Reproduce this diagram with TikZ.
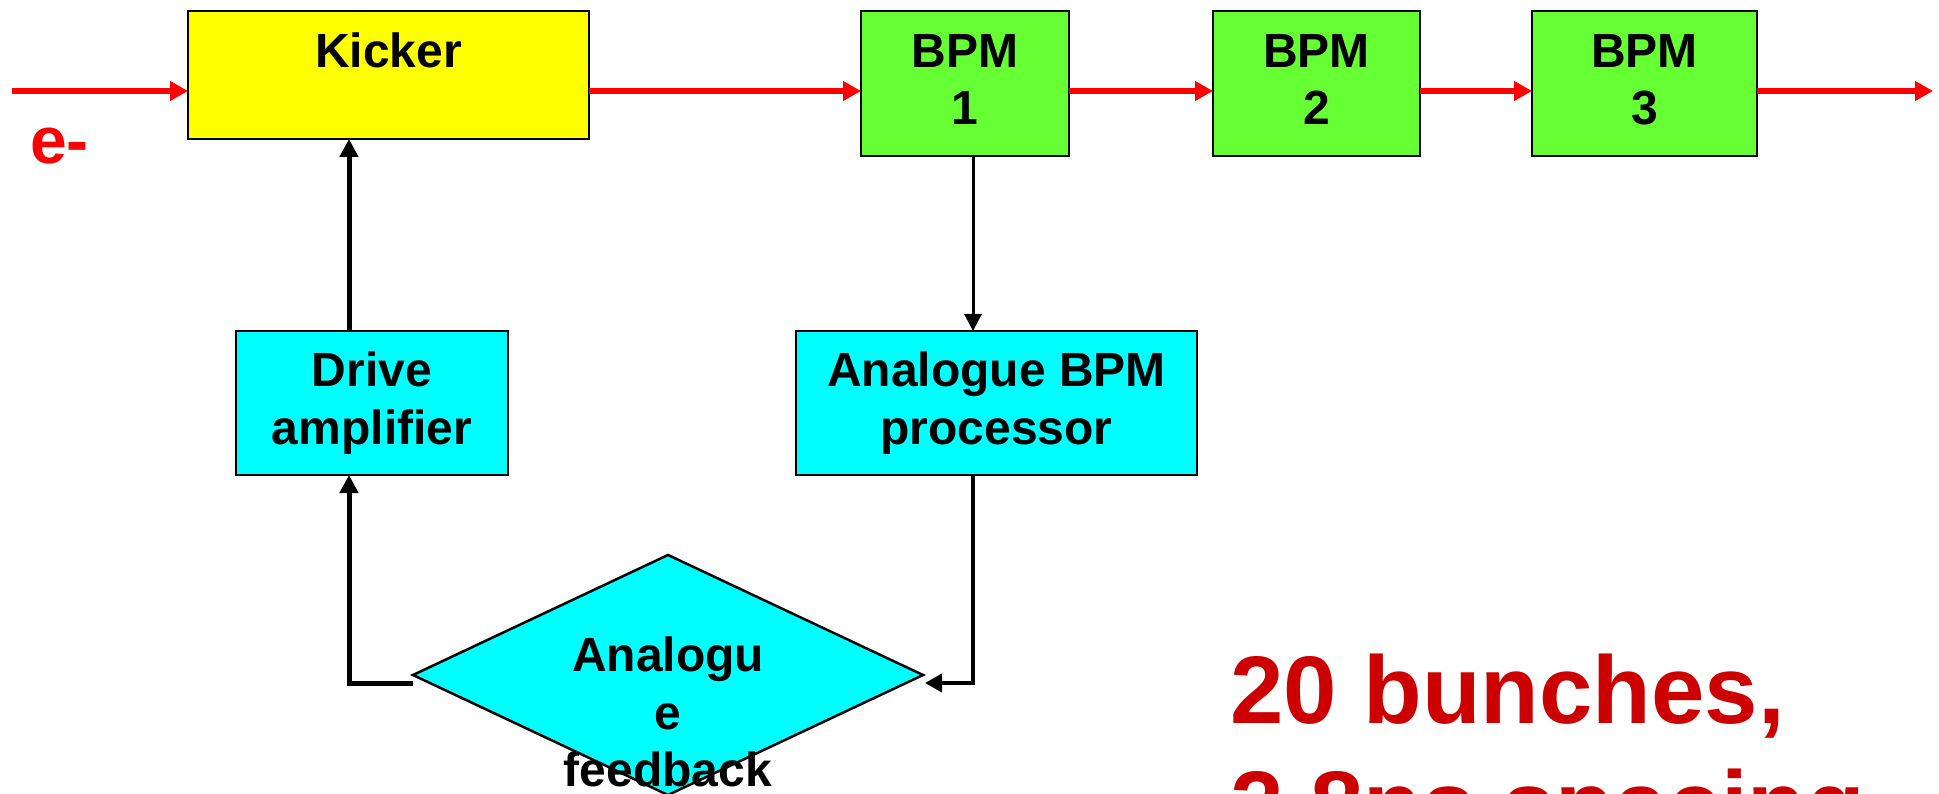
\documentclass[tikz,border=0pt]{standalone}
\usepackage{fontspec}
\setmainfont{Liberation Sans}
\usetikzlibrary{arrows.meta,shapes.geometric,calc}
\definecolor{kyellow}{HTML}{FFFF00}
\definecolor{bpmgreen}{HTML}{66FF33}
\definecolor{procyan}{HTML}{00FFFF}
\definecolor{beamred}{HTML}{FF0000}
\definecolor{textred}{HTML}{CC0000}
\begin{document}
\begin{tikzpicture}[x=1pt,y=-1pt,
  box/.style={draw=black, line width=2.5pt, inner sep=0pt, outer sep=0pt, align=center,
    font=\fontsize{48}{57.6}\selectfont\bfseries},
  beam/.style={draw=beamred, line width=6pt, -{Triangle[length=18pt,width=19pt]}},
  sigthick/.style={draw=black, line width=5pt, -{Triangle[length=18pt,width=18pt]}},
  sigthin/.style={draw=black, line width=3pt, -{Triangle[length=17pt,width=17pt]}},
  sigmid/.style={draw=black, line width=4pt, -{Triangle[length=17pt,width=18pt]}},
]
\path[use as bounding box, clip] (0,0) rectangle (1939,794);

% beam line nodes
\node[box, fill=kyellow, minimum width=401pt, minimum height=128pt,
      text height=35pt, text depth=49pt] (kicker) at (388.5,75) {Kicker};
\node[box, fill=bpmgreen, minimum width=208pt, minimum height=145pt, text depth=8pt]
      (bpm1) at (965,83.5) {BPM\\1};
\node[box, fill=bpmgreen, minimum width=207pt, minimum height=145pt, text depth=8pt]
      (bpm2) at (1316.5,83.5) {BPM\\2};
\node[box, fill=bpmgreen, minimum width=225pt, minimum height=145pt, text depth=8pt]
      (bpm3) at (1644.5,83.5) {BPM\\3};

% processing nodes
\node[box, fill=procyan, minimum width=272pt, minimum height=144pt]
      (drive) at (372,403) {Drive\\amplifier};
\node[box, fill=procyan, minimum width=401pt, minimum height=144pt]
      (proc) at (996.5,403) {Analogue BPM\\processor};
\node[draw=black, line width=2.5pt, fill=procyan, shape=diamond, inner sep=0pt, outer sep=0pt,
      minimum width=510pt, minimum height=240pt] (fb) at (668,675) {};
\node[inner sep=0pt, align=center, font=\fontsize{48}{57.6}\selectfont\bfseries]
      (fbtext) at (668,712) {Analogu\\e\\feedback};

% beam
\coordinate (in) at (12,91);
\coordinate (out) at (1933,91);
\draw[beam] (in) -- (in -| kicker.west);
\draw[beam] (kicker.east |- in) -- (bpm1.west |- in);
\draw[beam] (bpm1.east |- in) -- (bpm2.west |- in);
\draw[beam] (bpm2.east |- in) -- (bpm3.west |- in);
\draw[beam] (bpm3.east |- in) -- (out);

\node[anchor=base west, inner sep=0pt, font=\fontsize{66}{79}\selectfont\bfseries,
      text=beamred] (eminus) at (30,164) {e-};

% signal path
\coordinate (dx) at (349,0);
\coordinate (bx) at (973,0);
\draw[sigthick] (drive.north -| dx) -- (kicker.south -| dx);
\draw[sigthin] (bpm1.south -| bx) -- (proc.north -| bx);
\draw[sigmid] (proc.south -| bx) |- ($(fb.east)+(2,8)$);
\draw[sigthick] ($(fb.west)+(0,8)$) -| (drive.south -| dx);

% note
\node[anchor=base west, inner sep=0pt, align=left,
      font=\fontsize{96}{115}\selectfont\bfseries, text=textred]
      (note) at (1230,838) {20 bunches,\\2.8ns spacing};
\end{tikzpicture}
\end{document}
